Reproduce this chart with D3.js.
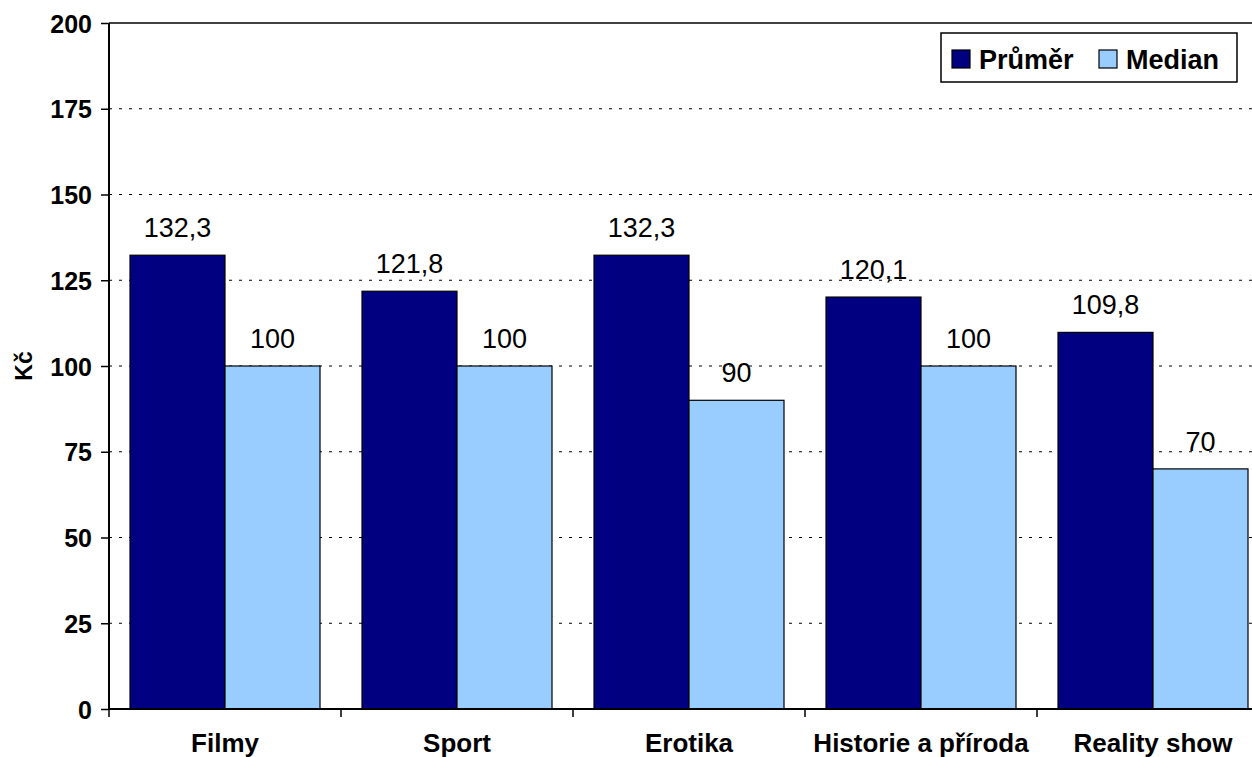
<!DOCTYPE html>
<html><head><meta charset="utf-8">
<script src="https://cdn.jsdelivr.net/npm/d3@7"></script>
<style>body{margin:0;background:#fff;} svg{display:block;font-family:Arial,"Liberation Sans",sans-serif;}</style>
</head><body>
<svg id="c" width="1252" height="757"></svg>
<script>
const categories = ["Filmy","Sport","Erotika","Historie a příroda","Reality show"];
const seriesNames = ["Průměr","Median"];
const prumer = [132.3,121.8,132.3,120.1,109.8];
const median = [100,100,90,100,70];
const yTicks = [0,25,50,75,100,125,150,175,200];
const colors = ["#000080","#99CCFF"];

const FONT = "Arial,'Liberation Sans',sans-serif";
const svg = d3.select("#c");
const L = 109, R = 109 + 5*232, T = 23, B = 709;
const x = d3.scaleBand().domain(categories).range([L,R]).paddingInner(0).paddingOuter(0);
const xs = d3.scaleBand().domain(seriesNames).range([21, 232-21]);
const y = d3.scaleLinear().domain([0,200]).range([B,T]);
const fmt = v => String(v).replace(".", ",");

// gridlines
svg.append("g").selectAll("line").data(yTicks.filter(t=>t>0 && t<200)).join("line")
  .attr("x1",L).attr("x2",R).attr("y1",d=>y(d)).attr("y2",d=>y(d))
  .attr("stroke","#000").attr("stroke-width",1).attr("stroke-dasharray","3,7");
// top border
svg.append("line").attr("x1",L).attr("x2",R).attr("y1",y(200)).attr("y2",y(200)).attr("stroke","#000").attr("stroke-width",1.5);

const data = categories.map((c,i)=>({cat:c, vals:[prumer[i],median[i]]}));
const g = svg.append("g").selectAll("g").data(data).join("g").attr("transform",d=>`translate(${x(d.cat)},0)`);
g.selectAll("rect").data(d=>d.vals.map((v,j)=>({v, s:seriesNames[j], j}))).join("rect")
  .attr("x",d=>xs(d.s)).attr("width",xs.bandwidth())
  .attr("y",d=>y(d.v)).attr("height",d=>B-y(d.v))
  .attr("fill",d=>colors[d.j]).attr("stroke","#000").attr("stroke-width",1.2);
g.selectAll("text").data(d=>d.vals.map((v,j)=>({v, s:seriesNames[j], j}))).join("text")
  .attr("x",d=>xs(d.s)+xs.bandwidth()/2).attr("y",d=>y(d.v)-18)
  .attr("text-anchor","middle").attr("font-size",27).attr("fill","#000").text(d=>fmt(d.v));

// axes
const ya = svg.append("g").attr("transform",`translate(${L},0)`)
  .call(d3.axisLeft(y).tickValues(yTicks).tickSize(8).tickPadding(9).tickFormat(d=>d));
ya.attr("font-size",25).attr("font-family",FONT);
ya.select(".domain").attr("stroke","#000").attr("stroke-width",2).attr("d",`M0,${T}V${B}`);
ya.selectAll(".tick line").attr("stroke-width",1.5);
ya.selectAll("text").attr("font-weight","bold").attr("fill","#000").attr("dy","0.36em");

const xa = svg.append("g").attr("transform",`translate(0,${B})`)
  .call(d3.axisBottom(x).tickSize(0).tickPadding(0));
xa.attr("font-size",26).attr("font-family",FONT);
xa.select(".domain").attr("stroke","#000").attr("stroke-width",2).attr("d",`M${L},0H${R}`);
xa.selectAll("text").attr("font-weight","bold").attr("fill","#000").attr("dy",null).attr("y",43);
// category boundary ticks
svg.append("g").selectAll("line").data(categories).join("line")
  .attr("x1",d=>x(d)).attr("x2",d=>x(d)).attr("y1",B).attr("y2",B+8).attr("stroke","#000").attr("stroke-width",1.5);

// y label
svg.append("text").attr("transform",`translate(32,${(T+B)/2}) rotate(-90)`).attr("text-anchor","middle")
  .attr("font-size",23).attr("font-weight","bold").text("Kč");

// legend
const lg = svg.append("g").attr("transform","translate(941,33)");
lg.append("rect").attr("width",296).attr("height",49).attr("fill","#fff").attr("stroke","#000").attr("stroke-width",1.5);
const items = [{n:seriesNames[0],c:colors[0],x:11},{n:seriesNames[1],c:colors[1],x:158}];
items.forEach(it=>{
  lg.append("rect").attr("x",it.x).attr("y",17).attr("width",18).attr("height",18).attr("fill",it.c).attr("stroke","#000").attr("stroke-width",1.2);
  lg.append("text").attr("x",it.x+27).attr("y",36).attr("font-size",27).attr("font-weight","bold").text(it.n);
});
</script>
</body></html>
